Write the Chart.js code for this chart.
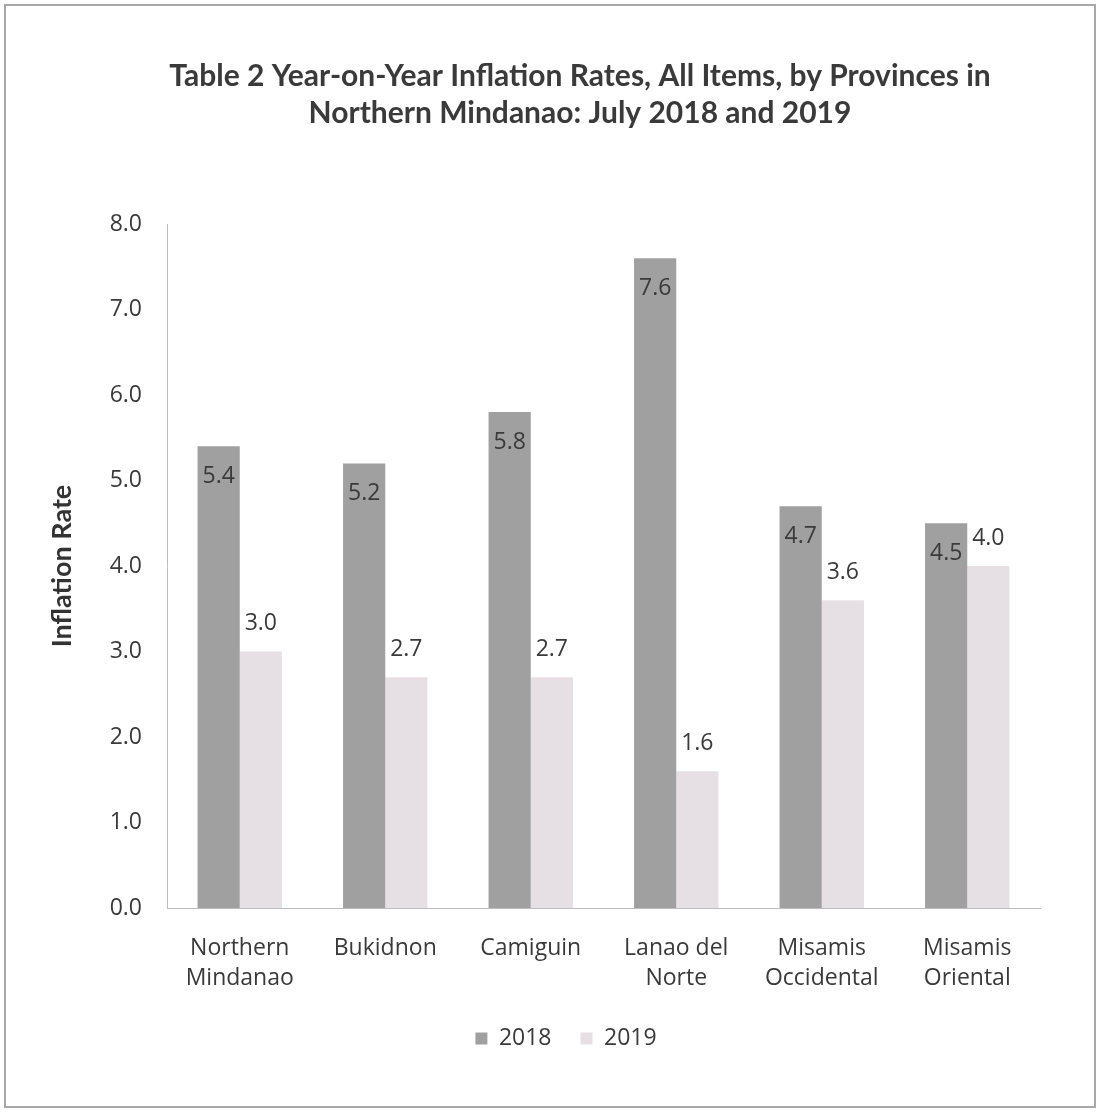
<!DOCTYPE html>
<html><head><meta charset="utf-8">
<script src="https://cdn.jsdelivr.net/npm/chart.js@4/dist/chart.umd.min.js"></script>
<style>
html,body{margin:0;padding:0;background:#fff;}
#wrap{position:relative;width:1103px;height:1114px;}
#frame{position:absolute;left:4px;top:4px;width:1092px;height:1104px;border:2px solid #a8a8a8;box-sizing:border-box;pointer-events:none;}
canvas{position:absolute;left:0;top:0;}
</style></head>
<body><div id="wrap"><canvas id="c" width="1103" height="1114"></canvas><div id="frame"></div></div>
<script>
const titleLines = ["Table 2 Year-on-Year Inflation Rates, All Items, by Provinces in", "Northern Mindanao: July 2018 and 2019"];
const categories = [["Northern","Mindanao"],"Bukidnon","Camiguin",["Lanao del","Norte"],["Misamis","Occidental"],["Misamis","Oriental"]];
const values2018 = [5.4, 5.2, 5.8, 7.6, 4.7, 4.5];
const values2019 = [3.0, 2.7, 2.7, 1.6, 3.6, 4.0];
const yTicks = [0,1,2,3,4,5,6,7,8];

const FONT = "'Open Sans', sans-serif";
const TFONT = "Lato, 'Open Sans', sans-serif";

const labelPlugin = {
  id: 'valLabels',
  afterLayout(chart) {
    const lg = chart.legend;
    if (lg) { lg.left += 25; lg.right += 25; }
  },
  afterDatasetsDraw(chart) {
    const ctx = chart.ctx;
    ctx.save();
    ctx.font = "23px " + FONT;
    ctx.fillStyle = "#3a3a3a";
    ctx.textAlign = "center";
    ctx.textBaseline = "middle";
    chart.data.datasets.forEach((ds, di) => {
      const meta = chart.getDatasetMeta(di);
      meta.data.forEach((el, i) => {
        const v = ds.data[i].toFixed(1);
        const y = di === 0 ? el.y + 30 : el.y - 28;
        ctx.fillText(v, el.x, y);
      });
    });
    ctx.restore();
  },
  afterDraw(chart) {
    const ctx = chart.ctx;
    ctx.save();
    ctx.font = "bold 30px " + TFONT;
    ctx.fillStyle = "#3a3a3a";
    ctx.textAlign = "center";
    ctx.textBaseline = "middle";
    titleLines.forEach((t, i) => ctx.fillText(t, 580, 76 + i * 37));
    ctx.restore();
  }
};

new Chart(document.getElementById('c'), {
  type: 'bar',
  data: {
    labels: categories,
    datasets: [
      {label: '2018', data: values2018, backgroundColor: '#a0a0a0'},
      {label: '2019', data: values2019, backgroundColor: '#e6e0e4'}
    ]
  },
  options: {
    responsive: false,
    animation: false,
    devicePixelRatio: 1,
    layout: {padding: {left: 42, right: 63, top: 224, bottom: 54}},
    datasets: {bar: {categoryPercentage: 0.58, barPercentage: 1.0}},
    plugins: {
      title: {display: false},
      legend: {
        position: 'bottom',
        labels: {
          font: {family: FONT, size: 23},
          color: '#3a3a3a',
          boxWidth: 12, boxHeight: 12,
          usePointStyle: true, pointStyle: 'rect',
          padding: 29
        }
      },
      tooltip: {enabled: false}
    },
    scales: {
      x: {
        grid: {display: false, drawTicks: false},
        border: {display: true, color: '#bdbdbd', width: 1},
        ticks: {font: {family: FONT, size: 23, lineHeight: 1.3}, color: '#3a3a3a', padding: 26, maxRotation: 0, autoSkip: false},
        afterFit(s) { s.height = 90; }
      },
      y: {
        min: 0, max: 8,
        afterBuildTicks(s) { s.ticks = yTicks.map(v => ({value: v})); },
        grid: {display: false, drawTicks: false},
        border: {display: true, color: '#bdbdbd', width: 1},
        ticks: {font: {family: FONT, size: 23}, color: '#3a3a3a', padding: 25, callback: v => Number(v).toFixed(1)},
        title: {display: true, text: 'Inflation Rate', font: {family: TFONT, size: 27, weight: 'bold'}, color: '#333', padding: {bottom: 20}},
        afterFit(s) { s.width = 125; }
      }
    }
  },
  plugins: [labelPlugin]
});
</script></body></html>
